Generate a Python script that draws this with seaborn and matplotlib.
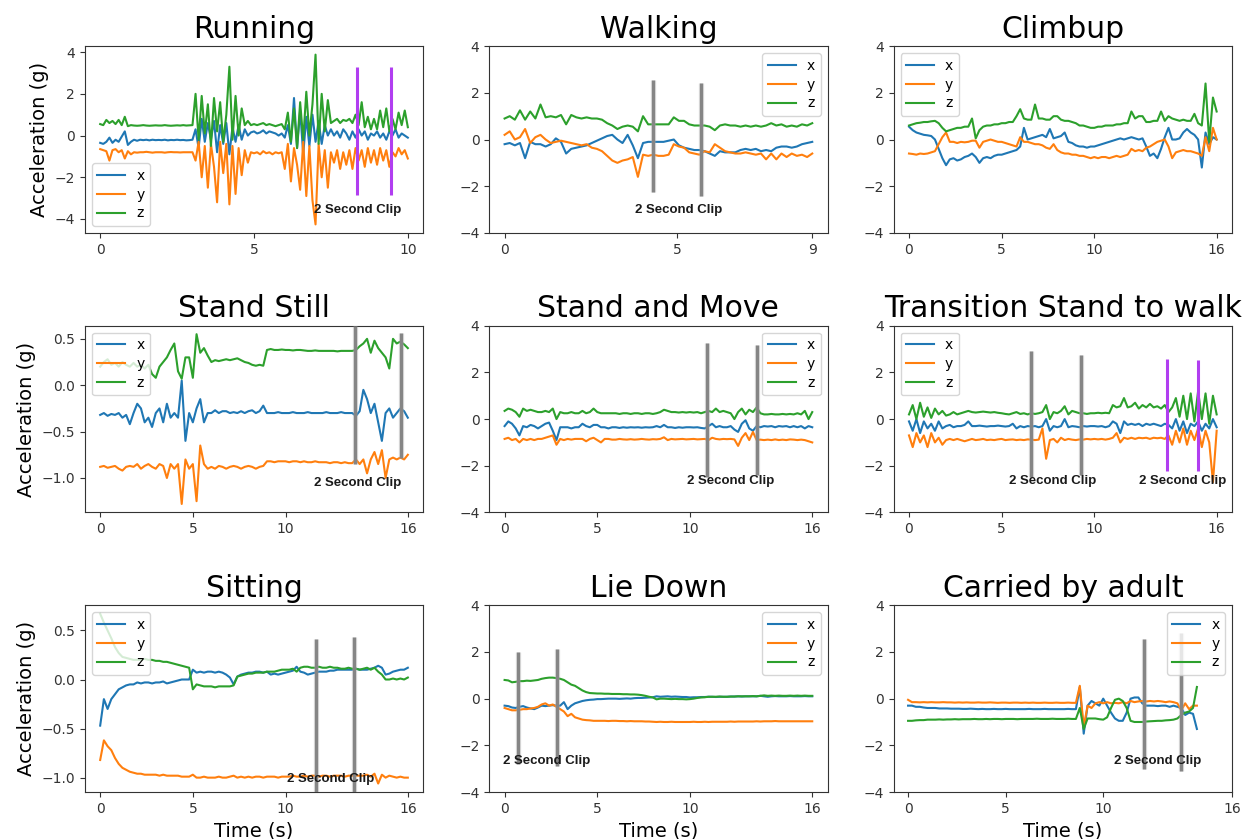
import numpy as np
import matplotlib
matplotlib.use("Agg")
from matplotlib import pyplot as plt
import seaborn as sns

#Colours
blue, orange, green = "#1f77b4", "#ff7f0e", "#2ca02c"
purple = "#b13ef0"

#Sample times (s)
run_t = np.arange(101) / 10        # 0 .. 10
walk_t = np.linspace(0, 8.9, 61)   # 0 .. 8.9
long_t = np.arange(84) / 5         # 0 .. 16.6
carry_t = np.arange(75) / 5        # 0 .. 14.8

#Running
run_x = [-0.35, -0.4, -0.3, -0.1, -0.35, -0.2, -0.3, -0.05, 0.2, -0.45,
         -0.3, -0.2, -0.25, -0.2, -0.22, -0.2, -0.23, -0.2, -0.22, -0.21,
         -0.22, -0.2, -0.23, -0.21, -0.22, -0.2, -0.22, -0.21, -0.23, -0.22,
         -0.2, 0.3, -0.6, 0.8, -0.3, 0.6, -0.2, 0.7, -0.8, 0.5,
         -0.4, 0.6, -0.9, 0.4, -0.3, 0.5, -0.2, 0.3, 0.0, 0.15,
         0.2, 0.1, 0.15, 0.25, 0.1, 0.2, 0.15, 0.1, 0.0, 0.1,
         -0.1, 0.5, -0.4, 1.8, -0.6, 1.2, -0.9, 0.9, -0.5, 1.0,
         -0.3, 0.7, -0.4, 0.5, 0.0, 0.3, 0.0, 0.2, -0.1, 0.3,
         0.1, -0.2, 0.2, -0.1, 0.3, 0.0, 0.2, -0.2, 0.1, 0.0,
         0.2, -0.1, 0.1, -0.2, 0.2, 0.0, 0.3, -0.1, 0.1, 0.0, -0.1]
run_y = [-0.65, -0.7, -0.75, -1.2, -0.7, -0.65, -0.8, -0.7, -1.1, -0.75,
         -0.9, -0.8, -0.82, -0.8, -0.8, -0.78, -0.8, -0.82, -0.8, -0.8,
         -0.8, -0.82, -0.8, -0.79, -0.8, -0.8, -0.81, -0.8, -0.8, -0.8,
         -0.8, -1.2, -0.3, -2.0, -0.5, -2.5, -0.4, -1.5, -3.2, -0.3,
         -1.8, -0.4, -3.3, -0.5, -2.8, -0.6, -1.9, -0.7, -1.3, -0.8,
         -0.85, -0.8, -0.9, -0.75, -0.85, -0.8, -0.9, -0.8, -0.85, -0.8,
         -1.6, -0.4, -2.2, -0.6, -1.4, -2.6, -0.3, -2.9, -0.5, -3.1,
         -4.26, -0.4, -2.0, -0.7, -2.5, -0.8, -1.3, -0.7, -1.6, -0.8,
         -1.4, -0.7, -1.6, -0.6, -1.2, -0.7, -1.5, -0.6, -1.3, -0.7,
         -1.4, -0.6, -1.2, -0.7, -1.5, -0.8, -1.0, -0.6, -0.9, -0.7, -1.1]
run_z = [0.55, 0.5, 0.75, 0.6, 0.7, 0.55, 0.75, 0.5, 0.9, 0.45,
         0.5, 0.48, 0.47, 0.48, 0.5, 0.48, 0.47, 0.48, 0.49, 0.48,
         0.48, 0.5, 0.48, 0.47, 0.48, 0.49, 0.48, 0.5, 0.48, 0.49,
         0.5, 2.0, -0.2, 1.9, 0.1, 1.5, -0.5, 1.8, 0.2, 1.6,
         -0.3, 1.0, 3.3, -0.2, 1.9, 0.0, 1.3, 0.5, 0.7, 0.5,
         0.55, 0.5, 0.55, 0.6, 0.5, 0.55, 0.5, 0.45, 0.5, 0.55,
         0.3, 1.1, -0.3, 1.3, -0.6, 1.6, -0.2, 2.1, 0.0, 1.5,
         3.88, -0.4, 2.0, 0.2, 1.7, 0.6, 0.7, 0.8, 0.6, 0.75,
         0.7, 0.8, 0.6, 1.0, 0.5, 1.6, 0.4, 0.9, 0.3, 0.8,
         0.3, 1.2, 0.4, 1.3, 0.2, 0.8, 0.3, 1.1, 0.5, 1.2, 0.4]

#Walking
walk_x = [-0.2, -0.15, -0.25, -0.15, -0.8, -0.1, -0.2, -0.2, -0.3, -0.2,
          0.05, -0.1, -0.6, -0.4, -0.35, -0.3, -0.25, -0.15, -0.05, 0.05,
          0.15, 0.2, 0.0, -0.15, 0.2, -0.25, -0.8, -0.15, -0.1, -0.1,
          -0.1, -0.1, -0.05, 0.0, -0.25, -0.35, -0.4, -0.45, -0.45, -0.5,
          -0.6, -0.7, -0.5, -0.55, -0.55, -0.55, -0.45, -0.4, -0.45, -0.4,
          -0.5, -0.45, -0.5, -0.35, -0.3, -0.3, -0.35, -0.3, -0.2, -0.15, -0.1]
walk_y = [0.2, 0.35, 0.0, 0.1, 0.45, -0.15, 0.1, 0.2, 0.0, -0.15,
          -0.1, -0.05, -0.1, -0.15, -0.2, -0.25, -0.2, -0.35, -0.4, -0.5,
          -0.7, -0.9, -1.0, -0.9, -0.85, -0.75, -1.6, -0.65, -0.7, -0.65,
          -0.7, -0.7, -0.65, -0.2, -0.3, -0.35, -0.55, -0.6, -0.65, -0.5,
          -0.55, -0.2, -0.35, -0.5, -0.55, -0.6, -0.6, -0.55, -0.6, -0.65,
          -0.6, -0.85, -0.6, -0.85, -0.6, -0.75, -0.6, -0.7, -0.65, -0.75, -0.6]
walk_z = [0.9, 1.0, 0.85, 1.25, 0.85, 1.2, 0.9, 1.5, 0.95, 1.0,
          0.95, 1.05, 0.65, 1.05, 0.95, 0.9, 0.95, 0.9, 0.9, 0.85,
          0.7, 0.6, 0.45, 0.55, 0.6, 0.55, 0.35, 1.0, 0.65, 0.65,
          0.65, 0.65, 0.65, 0.95, 0.8, 0.8, 0.65, 0.6, 0.6, 0.6,
          0.55, 0.4, 0.6, 0.65, 0.6, 0.6, 0.55, 0.6, 0.55, 0.6,
          0.55, 0.6, 0.7, 0.6, 0.65, 0.55, 0.6, 0.55, 0.65, 0.6, 0.7]

#Climbup
climb_x = [0.55, 0.4, 0.3, 0.25, 0.2, 0.18, 0.15, 0.0, -0.4, -0.8,
           -1.1, -0.85, -0.8, -0.9, -0.85, -0.75, -0.7, -0.6, -0.75, -1.0,
           -0.8, -0.75, -0.8, -0.7, -0.65, -0.65, -0.6, -0.55, -0.5, -0.45,
           -0.3, 0.5, 0.0, 0.05, 0.1, 0.15, 0.2, 0.1, 0.45, 0.05,
           0.1, 0.15, 0.3, -0.1, -0.15, -0.25, -0.3, -0.3, -0.35, -0.3,
           -0.3, -0.25, -0.2, -0.15, -0.1, -0.05, 0.0, 0.05, 0.0, 0.05,
           0.1, 0.05, 0.0, 0.05, -0.3, -0.7, -0.6, -0.8, -0.4, 0.1,
           0.5, 0.0, 0.0, 0.05, 0.3, 0.45, 0.3, 0.2, 0.0, -1.2,
           0.3, -0.2, 0.1, 0.0]
climb_y = [-0.6, -0.62, -0.65, -0.6, -0.62, -0.6, -0.55, -0.5, -0.2, 0.1,
           0.3, -0.1, -0.1, -0.15, -0.1, -0.12, -0.1, -0.05, -0.05, -0.35,
           -0.1, -0.05, 0.0, -0.05, -0.1, -0.1, -0.15, -0.2, -0.25, -0.3,
           0.1, -0.1, -0.1, -0.15, -0.2, -0.2, -0.25, -0.35, -0.4, -0.2,
           -0.45, -0.55, -0.6, -0.6, -0.65, -0.65, -0.7, -0.7, -0.75, -0.8,
           -0.75, -0.8, -0.75, -0.75, -0.8, -0.75, -0.7, -0.75, -0.7, -0.65,
           -0.4, -0.5, -0.45, -0.5, -0.35, -0.3, -0.2, -0.1, -0.05, 0.0,
           -0.3, -0.8, -0.55, -0.5, -0.45, -0.5, -0.5, -0.55, -0.6, -0.7,
           0.1, -0.5, 0.5, 0.0]
climb_z = [0.6, 0.65, 0.7, 0.72, 0.75, 0.75, 0.78, 0.8, 0.7, 0.5,
           0.35, 0.4, 0.45, 0.5, 0.5, 0.55, 0.55, 0.9, 0.05, 0.4,
           0.55, 0.6, 0.6, 0.65, 0.65, 0.7, 0.7, 0.75, 0.75, 1.0,
           1.3, 0.9, 0.85, 0.85, 1.5, 0.9, 0.9, 0.85, 0.85, 1.0,
           1.0, 0.85, 0.8, 0.8, 0.75, 0.7, 0.6, 0.6, 0.55, 0.5,
           0.5, 0.55, 0.55, 0.6, 0.6, 0.6, 0.65, 0.65, 0.7, 0.7,
           1.2, 0.9, 1.0, 1.0, 0.75, 0.75, 0.8, 0.8, 1.2, 0.8,
           1.0, 0.9, 0.85, 0.8, 0.85, 0.8, 0.8, 1.1, 0.7, 0.6,
           2.4, -0.1, 1.8, 1.2]

#Stand Still
still_x = [-0.32, -0.3, -0.33, -0.31, -0.32, -0.3, -0.35, -0.32, -0.42, -0.3,
           -0.2, -0.25, -0.4, -0.35, -0.45, -0.3, -0.25, -0.4, -0.2, -0.35,
           -0.3, -0.35, 0.05, -0.6, -0.3, -0.4, -0.25, -0.15, -0.4, -0.3,
           -0.3, -0.27, -0.3, -0.28, -0.28, -0.3, -0.29, -0.3, -0.28, -0.3,
           -0.28, -0.27, -0.3, -0.28, -0.22, -0.3, -0.3, -0.3, -0.29, -0.3,
           -0.3, -0.3, -0.29, -0.3, -0.3, -0.3, -0.29, -0.3, -0.3, -0.3,
           -0.3, -0.29, -0.3, -0.3, -0.3, -0.29, -0.3, -0.3, -0.3, -0.33,
           -0.28, -0.05, -0.15, -0.3, -0.2, -0.4, -0.6, -0.3, -0.25, -0.35,
           -0.3, -0.25, -0.28, -0.35]
still_y = [-0.88, -0.87, -0.89, -0.88, -0.87, -0.9, -0.92, -0.88, -0.87, -0.88,
           -0.85, -0.9, -0.87, -0.85, -0.88, -0.9, -0.85, -0.87, -1.0, -0.85,
           -0.9, -0.85, -1.28, -0.8, -0.9, -0.85, -1.25, -0.65, -0.85, -0.9,
           -0.88, -0.9, -0.87, -0.88, -0.9, -0.88, -0.87, -0.88, -0.9, -0.88,
           -0.87, -0.88, -0.9, -0.88, -0.87, -0.82, -0.82, -0.83, -0.82, -0.82,
           -0.82, -0.83, -0.82, -0.82, -0.83, -0.82, -0.83, -0.83, -0.82, -0.83,
           -0.83, -0.83, -0.84, -0.83, -0.83, -0.84, -0.83, -0.84, -0.84, -0.8,
           -0.85, -0.8, -0.95, -0.8, -0.72, -0.85, -0.7, -1.0, -0.8, -0.78,
           -0.8, -0.78, -0.8, -0.75]
still_z = [0.2, 0.25, 0.28, 0.22, 0.24, 0.2, 0.25, 0.22, 0.2, 0.24,
           0.2, 0.22, 0.18, 0.22, 0.12, 0.08, 0.2, 0.25, 0.3, 0.38,
           0.45, 0.15, 0.07, 0.3, 0.3, 0.08, 0.55, 0.35, 0.4, 0.32,
           0.25, 0.27, 0.26, 0.27, 0.28, 0.27, 0.28, 0.29, 0.27, 0.25,
           0.24, 0.22, 0.21, 0.22, 0.21, 0.38, 0.39, 0.38, 0.38, 0.385,
           0.38, 0.38, 0.375, 0.38, 0.38, 0.375, 0.37, 0.37, 0.375, 0.37,
           0.37, 0.37, 0.37, 0.37, 0.365, 0.37, 0.37, 0.37, 0.37, 0.38,
           0.42, 0.45, 0.5, 0.35, 0.48, 0.4, 0.35, 0.3, 0.18, 0.5,
           0.45, 0.47, 0.44, 0.4]

#Stand and Move
move_x = [-0.3, -0.1, -0.2, -0.4, -0.7, -0.3, -0.35, -0.25, -0.3, -0.4,
          -0.3, -0.2, -0.15, -0.5, -0.9, -0.35, -0.35, -0.35, -0.4, -0.35,
          -0.35, -0.2, -0.3, -0.35, -0.25, -0.25, -0.35, -0.35, -0.4, -0.35,
          -0.35, -0.38, -0.35, -0.37, -0.35, -0.36, -0.35, -0.37, -0.35, -0.36,
          -0.35, -0.3, -0.35, -0.25, -0.35, -0.35, -0.38, -0.35, -0.37, -0.35,
          -0.35, -0.36, -0.35, -0.38, -0.4, -0.3, -0.2, -0.35, -0.3, -0.35,
          -0.35, -0.3, -0.45, -0.55, -0.2, -0.05, -0.4, -0.5, -0.3, -0.35,
          -0.3, -0.32, -0.3, -0.35, -0.3, -0.32, -0.3, -0.35, -0.3, -0.35,
          -0.3, -0.4, -0.3, -0.35]
move_y = [-0.85, -0.8, -0.9, -0.85, -1.0, -0.85, -0.9, -0.85, -0.9, -0.85,
          -0.85, -0.8, -0.75, -0.7, -1.1, -0.85, -0.9, -0.85, -0.88, -0.85,
          -0.85, -0.85, -0.95, -0.85, -0.8, -0.9, -1.0, -0.85, -0.85, -0.88,
          -0.88, -0.85, -0.87, -0.88, -0.86, -0.88, -0.87, -0.85, -0.87, -0.88,
          -0.86, -0.87, -0.85, -0.78, -0.9, -0.85, -0.87, -0.86, -0.85, -0.87,
          -0.86, -0.85, -0.87, -0.86, -0.85, -0.9, -0.8, -0.85, -0.87, -0.85,
          -0.86, -0.85, -0.87, -1.15, -0.8, -0.6, -0.9, -0.55, -0.9, -0.88,
          -0.9, -0.88, -0.9, -0.87, -0.9, -0.88, -0.9, -0.87, -0.88, -0.9,
          -0.88, -0.9, -0.95, -1.0]
move_z = [0.35, 0.45, 0.4, 0.3, 0.1, 0.45, 0.35, 0.4, 0.35, 0.3,
          0.3, 0.35, 0.3, 0.45, 0.0, 0.3, 0.25, 0.25, 0.3, 0.25,
          0.25, 0.35, 0.25, 0.3, 0.45, 0.3, 0.25, 0.25, 0.25, 0.25,
          0.25, 0.22, 0.25, 0.25, 0.22, 0.25, 0.25, 0.22, 0.25, 0.25,
          0.22, 0.25, 0.3, 0.4, 0.35, 0.3, 0.3, 0.28, 0.3, 0.28,
          0.3, 0.28, 0.3, 0.25, 0.3, 0.35, 0.3, 0.45, 0.3, 0.35,
          0.3, 0.25, 0.0, 0.3, 0.45, 0.2, 0.4, 0.3, 0.5, 0.25,
          0.2, 0.2, 0.22, 0.2, 0.2, 0.22, 0.2, 0.22, 0.2, 0.25,
          0.2, 0.35, 0.0, 0.3]

#Transition Stand to walk
trans_x = [-0.1, -0.5, 0.0, -0.6, -0.1, -0.4, -0.2, -0.5, -0.1, -0.4,
           -0.3, -0.25, -0.35, -0.3, -0.3, -0.25, -0.1, -0.3, -0.3, -0.28,
           -0.3, -0.32, -0.3, -0.3, -0.28, -0.3, -0.32, -0.3, -0.2, -0.4,
           -0.3, -0.35, -0.3, -0.32, -0.3, -0.35, -0.3, 0.0, -0.5, -0.3,
           -0.35, -0.3, 0.0, -0.35, -0.3, -0.32, -0.35, -0.3, -0.32, -0.3,
           -0.3, -0.32, -0.3, -0.35, -0.3, -0.1, -0.2, -0.6, -0.1, -0.25,
           -0.2, -0.25, -0.2, -0.3, -0.2, -0.25, -0.2, -0.25, -0.3, -0.2,
           -0.25, -0.4, 0.0, -0.5, -0.1, -0.6, -0.2, -0.3, -0.1, -0.5,
           -0.2, -0.4, 0.0, -0.35]
trans_y = [-0.7, -1.2, -0.6, -1.0, -0.7, -1.2, -0.6, -1.0, -0.8, -1.1,
           -0.9, -0.85, -0.9, -0.85, -0.9, -0.95, -0.9, -0.85, -0.9, -0.88,
           -0.85, -0.9, -0.88, -0.9, -0.87, -0.85, -0.9, -0.88, -0.87, -0.9,
           -0.88, -0.9, -0.87, -0.88, -0.9, -0.88, -0.4, -1.7, -0.9, -0.85,
           -1.0, -0.8, -0.9, -0.85, -0.88, -0.9, -0.87, -0.88, -0.85, -0.87,
           -0.85, -0.87, -0.85, -0.88, -0.85, -0.8, -0.6, -1.0, -0.8, -0.85,
           -0.8, -0.85, -0.8, -0.82, -0.8, -0.85, -0.8, -0.82, -0.8, -0.85,
           -0.7, -1.1, -0.5, -1.0, -0.4, -1.1, -0.5, -0.9, -0.4, -1.2,
           -0.5, -1.0, -2.7, -0.5]
trans_z = [0.2, 0.6, 0.0, 0.7, 0.1, 0.5, 0.05, 0.45, 0.2, 0.35,
           0.15, 0.2, 0.3, 0.2, 0.25, 0.3, 0.35, 0.3, 0.28, 0.3,
           0.32, 0.3, 0.28, 0.3, 0.27, 0.25, 0.22, 0.2, 0.25, 0.3,
           0.22, 0.25, 0.2, 0.25, 0.22, 0.25, 0.3, 0.6, 0.0, 0.3,
           0.25, 0.35, 0.55, 0.2, 0.35, 0.3, 0.25, 0.25, 0.22, 0.25,
           0.25, 0.27, 0.25, 0.27, 0.25, 0.6, 0.5, 0.55, 0.9, 0.5,
           0.55, 0.7, 0.45, 0.6, 0.5, 0.65, 0.5, 0.55, 0.45, 0.6,
           0.3, 0.5, 0.9, 0.1, 1.0, 0.0, 1.1, -0.1, 1.2, 0.0,
           1.1, -0.2, 1.0, 0.2]

#Sitting
sit_x = [-0.47, -0.2, -0.3, -0.2, -0.15, -0.1, -0.08, -0.06, -0.05, -0.05,
         -0.03, -0.04, -0.03, -0.03, -0.04, -0.03, -0.03, -0.02, -0.04, -0.03,
         -0.02, -0.01, 0.0, 0.0, 0.0, 0.1, 0.07, 0.08, 0.07, 0.08,
         0.08, 0.07, 0.08, 0.07, 0.05, 0.02, -0.05, 0.03, 0.05, 0.06,
         0.07, 0.07, 0.08, 0.08, 0.07, 0.08, 0.05, 0.06, 0.05, 0.06,
         0.07, 0.08, 0.09, 0.13, 0.08, 0.07, 0.05, 0.06, 0.07, 0.08,
         0.08, 0.08, 0.09, 0.09, 0.1, 0.1, 0.1, 0.1, 0.1, 0.11,
         0.1, 0.1, 0.1, 0.11, 0.12, 0.14, 0.12, 0.05, 0.06, 0.08,
         0.09, 0.1, 0.1, 0.12]
sit_y = [-0.82, -0.62, -0.68, -0.72, -0.8, -0.86, -0.9, -0.92, -0.94, -0.95,
         -0.96, -0.96, -0.97, -0.97, -0.97, -0.97, -0.98, -0.97, -0.98, -0.98,
         -0.98, -0.98, -0.99, -0.99, -0.99, -0.97, -1.0, -1.0, -0.99, -1.0,
         -1.0, -1.0, -0.99, -1.0, -1.0, -0.99, -0.98, -1.0, -0.99, -1.0,
         -0.99, -1.0, -0.99, -0.99, -1.0, -0.99, -0.99, -0.99, -1.0, -0.99,
         -0.99, -0.99, -0.98, -0.99, -0.99, -0.98, -0.99, -0.98, -0.98, -0.99,
         -0.98, -0.98, -0.99, -0.98, -0.98, -0.98, -0.99, -0.98, -0.98, -0.98,
         -0.98, -0.98, -0.97, -0.99, -0.96, -1.06, -0.97, -1.0, -0.98, -0.99,
         -1.0, -0.99, -1.0, -1.0]
sit_z = [0.67, 0.58, 0.5, 0.42, 0.33, 0.27, 0.23, 0.22, 0.21, 0.2,
         0.2, 0.2, 0.21, 0.2, 0.2, 0.19, 0.19, 0.18, 0.18, 0.17,
         0.16, 0.15, 0.14, 0.13, 0.12, -0.1, -0.05, -0.06, -0.07, -0.07,
         -0.07, -0.08, -0.07, -0.07, -0.07, -0.07, -0.06, 0.03, 0.04, 0.05,
         0.06, 0.06, 0.07, 0.07, 0.07, 0.08, 0.08, 0.08, 0.09, 0.1,
         0.1, 0.1, 0.11, 0.08, 0.12, 0.13, 0.13, 0.12, 0.12, 0.13,
         0.12, 0.12, 0.13, 0.12, 0.12, 0.11, 0.11, 0.12, 0.11, 0.11,
         0.1, 0.11, 0.12, 0.1, 0.12, 0.08, 0.05, 0.0, 0.0, 0.01,
         0.0, 0.01, 0.0, 0.02]

#Lie Down
lie_x = [-0.3, -0.32, -0.38, -0.4, -0.35, -0.32, -0.38, -0.42, -0.45, -0.38,
         -0.3, -0.32, -0.3, -0.28, -0.3, -0.3, -0.15, -0.45, -0.3, -0.2,
         -0.15, -0.1, -0.07, -0.05, -0.04, -0.02, -0.02, -0.01, 0.0, 0.0,
         0.0, -0.01, 0.0, 0.01, 0.0, 0.02, 0.03, 0.03, 0.04, 0.05,
         0.06, 0.1, 0.08, 0.09, 0.1, 0.08, 0.09, 0.08, 0.07, 0.07,
         0.05, 0.06, 0.06, 0.07, 0.07, 0.08, 0.08, 0.07, 0.08, 0.08,
         0.08, 0.09, 0.09, 0.1, 0.09, 0.1, 0.1, 0.1, 0.1, 0.12,
         0.1, 0.08, 0.1, 0.11, 0.1, 0.1, 0.1, 0.11, 0.1, 0.1,
         0.1, 0.11, 0.1, 0.1]
lie_y = [-0.4, -0.45, -0.5, -0.5, -0.48, -0.45, -0.45, -0.42, -0.4, -0.35,
         -0.25, -0.2, -0.3, -0.25, -0.35, -0.45, -0.55, -0.75, -0.65, -0.8,
         -0.85, -0.9, -0.92, -0.93, -0.95, -0.95, -0.95, -0.95, -0.96, -0.95,
         -0.95, -0.96, -0.96, -0.97, -0.96, -0.97, -0.97, -0.97, -0.98, -0.98,
         -0.99, -1.0, -0.99, -1.0, -1.0, -0.99, -1.0, -1.0, -1.0, -1.0,
         -1.0, -0.99, -1.0, -1.0, -0.99, -1.0, -0.99, -0.99, -0.99, -0.99,
         -0.99, -0.98, -0.99, -0.98, -0.98, -0.98, -0.98, -0.98, -0.97, -0.98,
         -0.97, -0.97, -0.97, -0.96, -0.97, -0.97, -0.97, -0.97, -0.97, -0.97,
         -0.97, -0.97, -0.97, -0.97]
lie_z = [0.8, 0.78, 0.7, 0.72, 0.75, 0.75, 0.77, 0.76, 0.78, 0.8,
         0.85, 0.88, 0.9, 0.9, 0.88, 0.85, 0.8, 0.7, 0.6, 0.55,
         0.45, 0.35, 0.28, 0.24, 0.23, 0.22, 0.22, 0.21, 0.21, 0.2,
         0.2, 0.2, 0.19, 0.19, 0.18, 0.18, 0.17, 0.15, 0.12, 0.08,
         0.05, -0.03, 0.0, 0.0, -0.01, -0.02, -0.01, -0.02, -0.02, -0.03,
         -0.02, 0.0, 0.03, 0.05, 0.06, 0.08, 0.08, 0.08, 0.09, 0.08,
         0.08, 0.09, 0.09, 0.1, 0.1, 0.1, 0.1, 0.11, 0.1, 0.12,
         0.14, 0.12, 0.13, 0.12, 0.13, 0.12, 0.12, 0.13, 0.12, 0.13,
         0.12, 0.13, 0.12, 0.12]

#Carried by adult
carry_x = [-0.3, -0.3, -0.35, -0.35, -0.38, -0.4, -0.4, -0.4, -0.42, -0.42,
           -0.42, -0.43, -0.43, -0.43, -0.44, -0.44, -0.43, -0.44, -0.45, -0.44,
           -0.45, -0.45, -0.44, -0.45, -0.45, -0.44, -0.45, -0.45, -0.45, -0.45,
           -0.45, -0.44, -0.45, -0.45, -0.45, -0.44, -0.45, -0.45, -0.45, -0.45,
           -0.45, -0.44, -0.45, -0.45, 0.5, -1.5, -0.3, -0.1, -0.2, -0.3,
           0.0, -0.3, -0.6, -0.85, -0.95, -0.95, -0.6, 0.0, 0.05, 0.05,
           -0.2, -0.3, -0.3, -0.3, -0.32, -0.3, -0.3, -0.35, -0.3, -0.35,
           -0.4, -0.7, -0.6, -0.65, -1.3]
carry_y = [-0.05, -0.15, -0.15, -0.16, -0.15, -0.16, -0.15, -0.16, -0.16, -0.15,
           -0.16, -0.16, -0.17, -0.16, -0.17, -0.16, -0.17, -0.17, -0.16, -0.17,
           -0.17, -0.16, -0.17, -0.18, -0.17, -0.17, -0.18, -0.17, -0.17, -0.18,
           -0.17, -0.18, -0.17, -0.18, -0.18, -0.17, -0.18, -0.18, -0.17, -0.18,
           -0.18, -0.17, -0.18, -0.18, 0.55, -1.2, -0.3, -0.4, -0.2, -0.15,
           -0.2, -0.15, -0.2, -0.18, -0.2, -0.15, -0.2, -0.1, -0.15, -0.12,
           -0.1, -0.12, -0.1, -0.12, -0.1, -0.12, -0.15, -0.12, -0.15, -0.2,
           -0.5, -0.2, -0.45, -0.3, -0.3]
carry_z = [-0.95, -0.95, -0.93, -0.92, -0.92, -0.9, -0.9, -0.9, -0.89, -0.9,
           -0.89, -0.89, -0.88, -0.89, -0.88, -0.88, -0.88, -0.87, -0.88, -0.88,
           -0.87, -0.88, -0.87, -0.87, -0.88, -0.87, -0.87, -0.87, -0.88, -0.87,
           -0.87, -0.87, -0.87, -0.86, -0.87, -0.87, -0.87, -0.86, -0.87, -0.87,
           -0.87, -0.86, -0.87, -0.87, -0.4, -1.3, -0.85, -0.85, -0.85, -0.88,
           -0.9, -0.8, -0.4, -0.05, 0.0, -0.1, -0.4, -0.95, -1.0, -1.0,
           -1.0, -0.98, -0.97, -0.96, -0.95, -0.95, -0.93, -0.92, -0.9, -0.85,
           -0.7, -0.6, -0.55, -0.4, 0.5]

#2 second clip markers: (time, bottom, top) and label positions
run_clips = [(8.34, -2.85, 3.3), (9.45, -2.85, 3.3)]
walk_clips = [(4.3, -2.24, 2.54), (5.69, -2.4, 2.4)]
still_clips = [(13.75, -0.85, 0.64), (16.25, -0.78, 0.56)]
move_clips = [(10.94, -2.46, 3.26), (13.62, -2.39, 3.19)]
trans_clips = [(6.58, -2.46, 2.9), (9.28, -2.39, 2.76)]
trans_clips2 = [(13.93, -2.24, 2.57), (15.62, -2.24, 2.51)]
sit_clips = [(11.62, -1.15, 0.41), (13.71, -1.15, 0.43)]
lie_clips = [(0.74, -2.8, 2.0), (2.85, -2.88, 2.14)]
carry_clips = [(12.07, -3.03, 2.54), (14.0, -3.1, 2.83)]

long_ticks = [0, 5, 10, 16.6]
long_labels = ["0", "5", "10", "16"]

panels = [
    dict(title="Running", t=run_t, d=(run_x, run_y, run_z), loc="lower left", ylim=None,
         ticks=[0, 5, 10], labels=["0", "5", "10"],
         clips=[(run_clips, True)], texts=[(8.36, -3.57)]),
    dict(title="Walking", t=walk_t, d=(walk_x, walk_y, walk_z), loc="upper right", ylim=(-4, 4),
         ticks=[0, 5, 8.9], labels=["0", "5", "9"],
         clips=[(walk_clips, False)], texts=[(5.03, -3.0)]),
    dict(title="Climbup", t=long_t, d=(climb_x, climb_y, climb_z), loc="upper left", ylim=(-4, 4),
         ticks=long_ticks, labels=long_labels, clips=[], texts=[]),
    dict(title="Stand Still", t=long_t, d=(still_x, still_y, still_z), loc="upper left", ylim=None,
         ticks=long_ticks, labels=long_labels,
         clips=[(still_clips, False)], texts=[(13.87, -1.05)]),
    dict(title="Stand and Move", t=long_t, d=(move_x, move_y, move_z), loc="upper right", ylim=(-4, 4),
         ticks=long_ticks, labels=long_labels,
         clips=[(move_clips, False)], texts=[(12.17, -2.67)]),
    dict(title="Transition Stand to walk", t=long_t, d=(trans_x, trans_y, trans_z), loc="upper left",
         ylim=(-4, 4), ticks=long_ticks, labels=long_labels,
         clips=[(trans_clips, False), (trans_clips2, True)], texts=[(7.75, -2.67), (14.77, -2.67)]),
    dict(title="Sitting", t=long_t, d=(sit_x, sit_y, sit_z), loc="upper left", ylim=None,
         ticks=long_ticks, labels=long_labels,
         clips=[(sit_clips, False)], texts=[(12.45, -1.01)]),
    dict(title="Lie Down", t=long_t, d=(lie_x, lie_y, lie_z), loc="upper right", ylim=(-4, 4),
         ticks=long_ticks, labels=long_labels,
         clips=[(lie_clips, False)], texts=[(2.26, -2.67)]),
    dict(title="Carried by adult", t=carry_t, d=(carry_x, carry_y, carry_z), loc="upper right",
         ylim=(-4, 4), ticks=long_ticks, labels=long_labels,
         clips=[(carry_clips, False)], texts=[(12.8, -2.67)]),
]


def drawClips(ax, clips, isPurple):
    xs = [c[0] for c in clips]
    lo = [c[1] for c in clips]
    hi = [c[2] for c in clips]
    if isPurple:
        ax.vlines(xs, lo, hi, colors=purple, linewidth=2.2, zorder=5)
    else:
        #soft grey bar
        ax.vlines(xs, lo, hi, colors="#b0b0b0", linewidth=3.8, alpha=0.35, zorder=5)
        ax.vlines(xs, lo, hi, colors="#858585", linewidth=2.4, zorder=5)


def drawPanel(ax, p, row, col):
    for vals, name, c in zip(p["d"], ["x", "y", "z"], [blue, orange, green]):
        sns.lineplot(x=p["t"], y=vals, ax=ax, color=c, label=name, linewidth=1.5)
    #freeze autoscaled limits before adding the clip markers
    ax.set_xlim(ax.get_xlim())
    ax.set_ylim(ax.get_ylim() if p["ylim"] is None else p["ylim"])
    ax.set_xticks(p["ticks"])
    ax.set_xticklabels(p["labels"])
    for clips, isPurple in p["clips"]:
        drawClips(ax, clips, isPurple)
    for tx, ty in p["texts"]:
        ax.text(tx, ty, "2 Second Clip", ha="center", va="center", fontsize=9.5,
                fontweight="bold", family="Liberation Sans", color="#1a1a1a", zorder=6)
    ax.set_title(p["title"], fontsize=21.5)
    ax.legend(loc=p["loc"], fontsize=10, labelspacing=0.35)
    ax.tick_params(labelsize=10, colors="#333333")
    ax.set_xlabel("Time (s)" if row == 2 else "", fontsize=14)
    ax.set_ylabel("Acceleration (g)" if col == 0 else "", fontsize=14)
    for s in ax.spines.values():
        s.set_color("#333333")


fig, axes = plt.subplots(3, 3, figsize=(12.47, 8.39), dpi=100)
fig.subplots_adjust(left=0.068, right=0.988, bottom=0.056, top=0.945, wspace=0.195, hspace=0.497)
for i, p in enumerate(panels):
    drawPanel(axes[i // 3, i % 3], p, i // 3, i % 3)
fig.savefig("out.png", dpi=100)
plt.close(fig)
